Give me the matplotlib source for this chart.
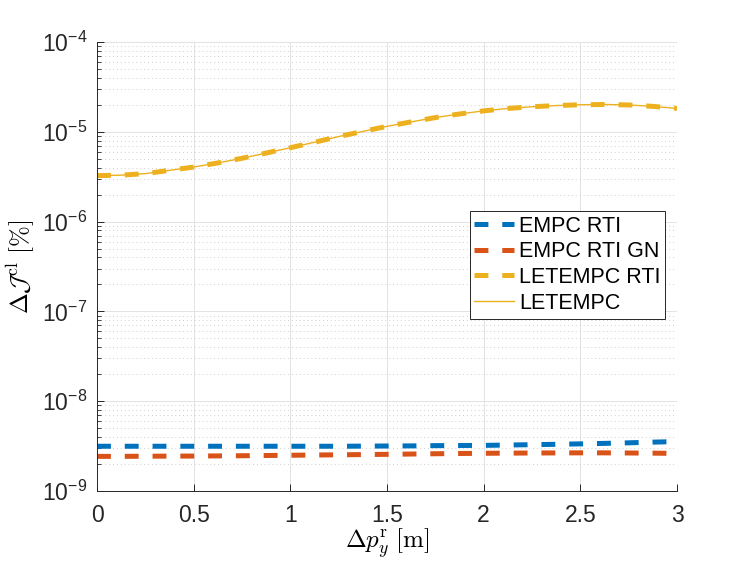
import matplotlib
matplotlib.use('Agg')
import matplotlib.pyplot as plt
import numpy as np
from matplotlib.ticker import FixedLocator, FuncFormatter, NullFormatter, LogLocator

plt.rcParams['font.family'] = ['Liberation Sans', 'DejaVu Sans']
plt.rcParams['mathtext.fontset'] = 'cm'

# ---- data ----
x_pos = [0, 0.125, 0.25, 0.375, 0.5, 0.625, 0.75, 0.875, 1.0, 1.125, 1.25, 1.375,
         1.5, 1.625, 1.75, 1.875, 2.0, 2.125, 2.25, 2.375, 2.5, 2.625, 2.75, 2.875, 3.0]
empc_rti = [3.15e-9, 3.15e-9, 3.15e-9, 3.15e-9, 3.15e-9, 3.15e-9, 3.15e-9, 3.15e-9,
            3.15e-9, 3.15e-9, 3.15e-9, 3.16e-9, 3.17e-9, 3.18e-9, 3.20e-9, 3.21e-9,
            3.22e-9, 3.25e-9, 3.28e-9, 3.31e-9, 3.35e-9, 3.39e-9, 3.44e-9, 3.50e-9, 3.55e-9]
empc_rti_gn = [2.43e-9, 2.43e-9, 2.44e-9, 2.445e-9, 2.45e-9, 2.46e-9, 2.47e-9, 2.485e-9,
               2.50e-9, 2.515e-9, 2.53e-9, 2.545e-9, 2.56e-9, 2.58e-9, 2.60e-9, 2.615e-9,
               2.63e-9, 2.64e-9, 2.65e-9, 2.655e-9, 2.66e-9, 2.66e-9, 2.65e-9, 2.64e-9, 2.62e-9]
letempc_rti = [3.25e-6, 3.29e-6, 3.42e-6, 3.72e-6, 4.05e-6, 4.50e-6, 5.07e-6, 5.80e-6,
               6.65e-6, 7.65e-6, 8.85e-6, 1.01e-5, 1.15e-5, 1.29e-5, 1.44e-5, 1.58e-5,
               1.71e-5, 1.82e-5, 1.90e-5, 1.96e-5, 2.00e-5, 2.015e-5, 1.99e-5, 1.92e-5, 1.82e-5]
letempc = [3.25e-6, 3.29e-6, 3.42e-6, 3.72e-6, 4.05e-6, 4.50e-6, 5.07e-6, 5.80e-6,
           6.65e-6, 7.65e-6, 8.85e-6, 1.01e-5, 1.15e-5, 1.29e-5, 1.44e-5, 1.58e-5,
           1.71e-5, 1.82e-5, 1.90e-5, 1.96e-5, 2.00e-5, 2.015e-5, 1.99e-5, 1.92e-5, 1.82e-5]
series_labels = ['EMPC RTI', 'EMPC RTI GN', 'LETEMPC RTI', 'LETEMPC']
x_ticks = [0, 0.5, 1, 1.5, 2, 2.5, 3]
x_tick_labels = ['0', '0.5', '1', '1.5', '2', '2.5', '3']
y_exponents = [-9, -8, -7, -6, -5, -4]

# ---- figure ----
fig = plt.figure(figsize=(7.47, 5.61), dpi=100)
ax = fig.add_axes([97/747, 1 - 491/561, 580/747, 449/561])

c_blue, c_orange, c_yellow = '#0072BD', '#D95319', '#EDB120'
lw_d = 3.6
dash = (0, (10/lw_d, 10/lw_d))
ax.plot(x_pos, empc_rti, color=c_blue, lw=lw_d, ls=dash, dash_capstyle='butt', label=series_labels[0])
ax.plot(x_pos, empc_rti_gn, color=c_orange, lw=lw_d, ls=dash, dash_capstyle='butt', label=series_labels[1])
ax.plot(x_pos, letempc_rti, color=c_yellow, lw=lw_d, ls=dash, dash_capstyle='butt', label=series_labels[2])
ax.plot(x_pos, letempc, color=c_yellow, lw=1.0, ls='-', label=series_labels[3])

ax.set_yscale('log')
ax.set_xlim(0, 3)
ax.set_ylim(1e-9, 1e-4)

ax.xaxis.set_major_locator(FixedLocator(x_ticks))
ax.set_xticklabels(x_tick_labels)
ax.yaxis.set_major_locator(FixedLocator([10.0**e for e in y_exponents]))
ax.yaxis.set_major_formatter(FuncFormatter(lambda v, p: r'$\mathregular{10^{%d}}$' % int(round(np.log10(v)))))
ax.yaxis.set_minor_locator(LogLocator(base=10, subs=np.arange(2, 10), numticks=20))
ax.yaxis.set_minor_formatter(NullFormatter())

ax.set_axisbelow(True)
ax.grid(which='major', color='#e3e3e3', lw=0.7)
ax.grid(which='minor', axis='y', color='#cfcfcf', lw=0.7, ls=(0, (1, 3)))

for s in ['top', 'right']:
    ax.spines[s].set_visible(False)
for s in ['left', 'bottom']:
    ax.spines[s].set_color('#262626')
    ax.spines[s].set_linewidth(0.7)

ax.tick_params(which='both', direction='in', colors='#262626', labelsize=16.5, labelcolor='#262626')
ax.tick_params(which='major', length=5, width=0.7)
ax.tick_params(axis='x', which='major', pad=9)
ax.tick_params(axis='y', which='major', pad=7)
ax.tick_params(which='minor', length=3, width=0.6)

ax.set_xlabel(r'$\Delta p_y^{\mathrm{r}}\ [\mathrm{m}]$', fontsize=18, labelpad=0)
ax.set_ylabel(r'$\Delta \mathcal{J}^{\mathrm{cl}}\ [\%]$', fontsize=18, labelpad=4)

leg = ax.legend(loc='upper right', bbox_to_anchor=(0.9795, 0.624), borderaxespad=0,
                fontsize=15.5, fancybox=False, framealpha=1, edgecolor='#262626',
                handlelength=1.85, handletextpad=0.22, labelspacing=0.22, borderpad=0.22)
leg.get_frame().set_linewidth(0.7)

fig.savefig('out.png', dpi=100)
